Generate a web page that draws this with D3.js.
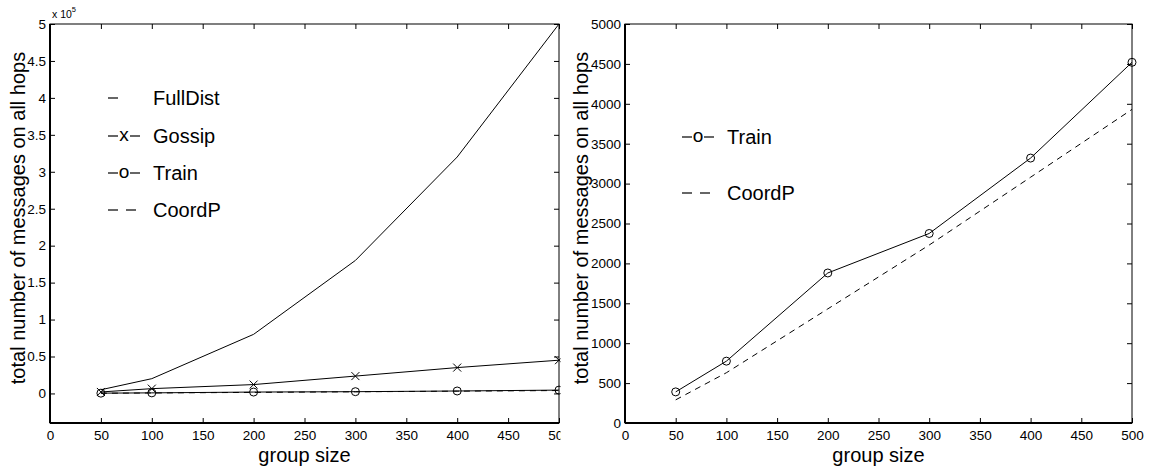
<!DOCTYPE html>
<html>
<head>
<meta charset="utf-8">
<script src="https://cdn.jsdelivr.net/npm/d3@7"></script>
<style>
  body { margin: 0; background: #fff; }
  svg text { font-family: "Liberation Sans", Arial, sans-serif; fill: #000; }
</style>
</head>
<body>
<svg id="chart" width="1153" height="470"></svg>
<script>
// group sizes on the x axis
const groupSizes = [50, 100, 200, 300, 400, 500];

// left panel, values in units of 10^5
const fullDist = [0.05, 0.2, 0.8, 1.8, 3.2, 5.0];
const gossip   = [0.02, 0.065, 0.12, 0.235, 0.35, 0.45];
const trainL   = [0.0039, 0.0078, 0.0188, 0.0238, 0.0332, 0.0452];
const coordPL  = [0.0029, 0.0063, 0.0143, 0.0223, 0.0308, 0.0393];

// right panel, raw counts
const train  = [390, 775, 1880, 2375, 3320, 4520];
const coordP = [290, 630, 1430, 2230, 3080, 3930];

const xTicks = [0, 50, 100, 150, 200, 250, 300, 350, 400, 450, 500];
const yTicksL = [0, 0.5, 1, 1.5, 2, 2.5, 3, 3.5, 4, 4.5, 5];
const yTicksR = [0, 500, 1000, 1500, 2000, 2500, 3000, 3500, 4000, 4500, 5000];

const svg = d3.select('#chart');

// clip for the left panel (its "500" label is cut at the box edge)
svg.append('defs').append('clipPath').attr('id', 'clipL')
  .append('rect').attr('x', 0).attr('y', 0).attr('width', 560.5).attr('height', 470);

// ─── generic panel ───
function panel(opt) {
  const g = svg.append('g').attr('clip-path', opt.clip || null);
  const x = d3.scaleLinear().domain([0, 500]).range([opt.left, opt.right]);
  const y = d3.scaleLinear().domain(opt.yDomain).range([opt.bottom, opt.top]);

  // box + inward ticks (matlab style)
  const tl = 5;
  g.append('rect')
    .attr('x', opt.left).attr('y', opt.top)
    .attr('width', opt.right - opt.left).attr('height', opt.bottom - opt.top)
    .attr('fill', 'none').attr('stroke', '#000').attr('stroke-width', 1);
  g.append('line').attr('x1', opt.left).attr('x2', opt.left)
    .attr('y1', opt.top).attr('y2', opt.bottom).attr('stroke', '#000').attr('stroke-width', 2);
  g.append('line').attr('x1', opt.left).attr('x2', opt.right)
    .attr('y1', opt.bottom).attr('y2', opt.bottom).attr('stroke', '#000').attr('stroke-width', 2);

  g.append('g').attr('transform', `translate(0,${opt.bottom})`)
    .call(d3.axisBottom(x).tickValues(xTicks).tickSize(-tl).tickPadding(7).tickFormat(d3.format('d')))
    .call(a => a.select('.domain').remove());
  g.append('g').attr('transform', `translate(0,${opt.top})`)
    .call(d3.axisTop(x).tickValues(xTicks).tickSize(-tl).tickFormat(''))
    .call(a => a.select('.domain').remove());
  g.append('g').attr('transform', `translate(${opt.left},0)`)
    .call(d3.axisLeft(y).tickValues(opt.yTicks).tickSize(-tl).tickPadding(4).tickFormat(opt.yFormat))
    .call(a => a.select('.domain').remove());
  g.append('g').attr('transform', `translate(${opt.right},0)`)
    .call(d3.axisRight(y).tickValues(opt.yTicks).tickSize(-tl).tickFormat(''))
    .call(a => a.select('.domain').remove());

  g.selectAll('.tick line').attr('stroke', '#000');
  g.selectAll('.tick text').attr('font-size', 13.5).attr('font-family', '"Liberation Sans", Arial, sans-serif').attr('fill', '#000');

  // axis labels
  g.append('text')
    .attr('x', (opt.left + opt.right) / 2).attr('y', 462)
    .attr('text-anchor', 'middle').attr('font-size', 20)
    .text('group size');
  g.append('text')
    .attr('transform', `translate(${opt.left - opt.labelOff},218) rotate(-90)`)
    .attr('text-anchor', 'middle').attr('font-size', 20)
    .text('total number of messages on all hops');

  // series
  const line = d3.line().x((d, i) => x(groupSizes[i])).y(d => y(d));
  opt.series.forEach(s => {
    g.append('path').datum(s.values)
      .attr('d', line)
      .attr('fill', 'none').attr('stroke', '#000').attr('stroke-width', 1)
      .attr('stroke-dasharray', s.dash ? '6,5' : null);
    if (s.marker === 'o') {
      g.selectAll(null).data(s.values).enter().append('circle')
        .attr('cx', (d, i) => x(groupSizes[i])).attr('cy', d => y(d)).attr('r', 4)
        .attr('fill', 'none').attr('stroke', '#000').attr('stroke-width', 1);
    } else if (s.marker === 'x') {
      g.selectAll(null).data(s.values).enter().append('path')
        .attr('d', (d, i) => {
          const cx = x(groupSizes[i]), cy = y(d), r = 4;
          return `M${cx - r},${cy - r}L${cx + r},${cy + r}M${cx - r},${cy + r}L${cx + r},${cy - r}`;
        })
        .attr('stroke', '#000').attr('stroke-width', 1);
    }
  });

  // legend
  opt.legend.forEach(l => {
    const ly = l.y, lx = opt.legX;
    const seg = (a, b) => g.append('line').attr('x1', lx + a).attr('x2', lx + b)
      .attr('y1', ly).attr('y2', ly).attr('stroke', '#000').attr('stroke-width', 1.2);
    if (l.kind === 'plain') {
      seg(0, 10);
    } else if (l.kind === 'dash') {
      seg(0, 10); seg(18, 28);
    } else {
      seg(0, 10); seg(22, 32);
      g.append('text').attr('x', lx + 16).attr('y', ly + 5)
        .attr('text-anchor', 'middle').attr('font-size', 19).text(l.kind);
    }
    g.append('text').attr('x', lx + 45).attr('y', ly + 7)
      .attr('font-size', 20).text(l.label);
  });
  return { g, x, y };
}

const left = panel({
  left: 50, right: 559, top: 24, bottom: 423, clip: 'url(#clipL)', labelOff: 25,
  yDomain: [-0.4, 5], yTicks: yTicksL, yFormat: d3.format('~g'),
  series: [
    { values: fullDist },
    { values: gossip, marker: 'x' },
    { values: trainL, marker: 'o' },
    { values: coordPL, dash: true }
  ],
  legX: 108,
  legend: [
    { kind: 'plain', label: 'FullDist', y: 98 },
    { kind: 'x', label: 'Gossip', y: 136 },
    { kind: 'o', label: 'Train', y: 173 },
    { kind: 'dash', label: 'CoordP', y: 210 }
  ]
});

// x 10^5 multiplier
const mult = left.g.append('text').attr('x', 52).attr('y', 18).attr('font-size', 10.5);
mult.append('tspan').text('x 10');
mult.append('tspan').attr('dy', -6).attr('font-size', 7.5).text('5');

panel({
  left: 625, right: 1132, top: 24, bottom: 423, labelOff: 37,
  yDomain: [0, 5000], yTicks: yTicksR, yFormat: d3.format('d'),
  series: [
    { values: train, marker: 'o' },
    { values: coordP, dash: true }
  ],
  legX: 682,
  legend: [
    { kind: 'o', label: 'Train', y: 137 },
    { kind: 'dash', label: 'CoordP', y: 193 }
  ]
});
</script>
</body>
</html>
